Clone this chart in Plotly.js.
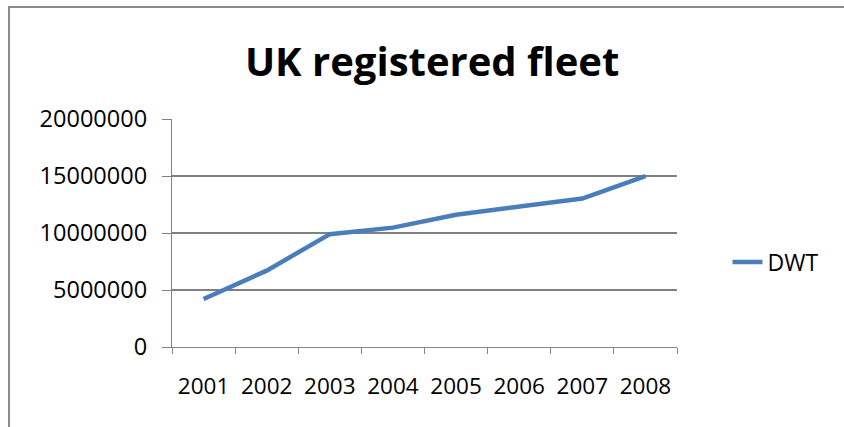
<!DOCTYPE html>
<html>
<head>
<meta charset="utf-8">
<script src="https://cdn.plot.ly/plotly-3.0.1.min.js"></script>
<style>
  html, body { margin: 0; padding: 0; background: #fff; }
  #wrap { position: relative; width: 844px; height: 427px; overflow: hidden; }
  #chart { position: absolute; left: 0; top: 0; width: 844px; height: 427px; }
  #frame { position: absolute; left: 8px; top: 6px; width: 900px; height: 500px;
           border-left: 2px solid #8c8c8c; border-top: 2px solid #8c8c8c; pointer-events: none; }
</style>
</head>
<body>
<div id="wrap">
  <div id="chart"></div>
  <div id="frame"></div>
</div>
<script>
const years = ["2001", "2002", "2003", "2004", "2005", "2006", "2007", "2008"];
const dwt = [4210000, 6700000, 9900000, 10470000, 11600000, 12280000, 13020000, 14990000];
const seriesName = "DWT";
const chartTitle = "UK registered fleet";
const yTicks = [0, 5000000, 10000000, 15000000, 20000000];

const font = "'Open Sans', 'Noto Sans', sans-serif";

const trace = {
  x: years,
  y: dwt,
  type: "scatter",
  mode: "lines",
  name: seriesName,
  line: { color: "#4a7ebb", width: 4.5 },
  hoverinfo: "skip"
};

const layout = {
  width: 844,
  height: 427,
  margin: { l: 172, r: 167, t: 119, b: 80, pad: 0 },
  paper_bgcolor: "#ffffff",
  plot_bgcolor: "#ffffff",
  title: {
    text: "<b>" + chartTitle + "</b>",
    font: { family: font, size: 40, color: "#000000" },
    x: 0.512, xanchor: "center",
    y: 0.855, yanchor: "middle", yref: "container"
  },
  showlegend: true,
  legend: {
    x: 1.1, xanchor: "left",
    y: 0.373, yanchor: "middle",
    font: { family: font, size: 23, color: "#000000" },
    bgcolor: "rgba(0,0,0,0)",
    itemwidth: 30
  },
  xaxis: {
    type: "category",
    range: [-0.5, 7.5],
    showgrid: false,
    showline: true,
    linecolor: "#868686",
    linewidth: 1,
    ticks: "outside",
    tickson: "boundaries",
    ticklen: 6,
    tickcolor: "#868686",
    tickfont: { family: font, size: 22.5, color: "#000000" },
    ticklabelstandoff: 19,
    zeroline: false,
    fixedrange: true
  },
  yaxis: {
    range: [0, 20000000],
    tickvals: yTicks,
    ticktext: yTicks.map(v => String(v)),
    showgrid: true,
    gridcolor: "#808080",
    gridwidth: 1.2,
    showline: true,
    linecolor: "#808080",
    linewidth: 1.2,
    ticks: "outside",
    ticklen: 9,
    tickcolor: "#808080",
    tickfont: { family: font, size: 23.5, color: "#000000" },
    ticklabelstandoff: 10,
    zeroline: false,
    fixedrange: true
  }
};

Plotly.newPlot("chart", [trace], layout, { staticPlot: true, displayModeBar: false });
</script>
</body>
</html>
